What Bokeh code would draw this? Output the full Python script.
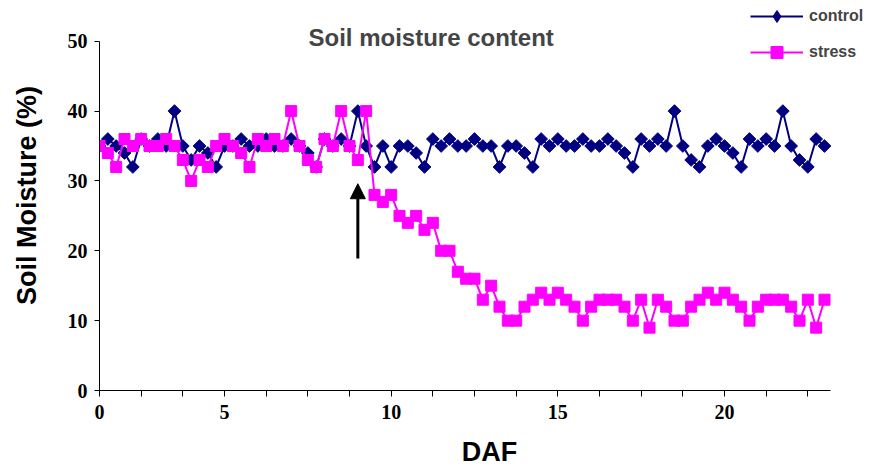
import numpy as np
from bokeh.plotting import figure
from bokeh.models import Range1d, FixedTicker, Label, Legend, LegendItem, Arrow, NormalHead, ColumnDataSource
from bokeh.embed import file_html
from bokeh.resources import INLINE

# ---- data ----
control = [35, 36, 35, 34, 32, 36, 35, 36, 35, 40,
           35, 33, 35, 34, 32, 35, 35, 36, 35, 35,
           36, 35, 35, 36, 35, 34, 32, 36, 35, 36,
           35, 40, 35, 32, 35, 32, 35, 35, 34, 32,
           36, 35, 36, 35, 35, 36, 35, 35, 32, 35,
           35, 34, 32, 36, 35, 36, 35, 35, 36, 35,
           35, 36, 35, 34, 32, 36, 35, 36, 35, 40,
           35, 33, 32, 35, 36, 35, 34, 32, 36, 35,
           36, 35, 40, 35, 33, 32, 36, 35]
stress = [35, 34, 32, 36, 35, 36, 35, 35, 36, 35,
          33, 30, 33, 32, 35, 36, 35, 34, 32, 36,
          35, 36, 35, 40, 35, 33, 32, 36, 35, 40,
          35, 33, 40, 28, 27, 28, 25, 24, 25, 23,
          24, 20, 20, 17, 16, 16, 13, 15, 12, 10,
          10, 12, 13, 14, 13, 14, 13, 12, 10, 12,
          13, 13, 13, 12, 10, 13, 9, 13, 12, 10,
          10, 12, 13, 14, 13, 14, 13, 12, 10, 12,
          13, 13, 13, 12, 10, 13, 9, 13]
sample = list(range(len(control)))          # sampling index along DAF axis
x_ticks = list(range(0, 90, 5))              # a tick every 5 samples
x_tick_labels = {0: "0", 15: "5", 35: "10", 55: "15", 75: "20"}
y_ticks = [0, 10, 20, 30, 40, 50]
stress_start = 31                            # sample where stress begins (arrow)
arrow_from, arrow_to = 18.9, 29.6

src = ColumnDataSource(dict(x=sample, control=control, stress=stress))
key_src = ColumnDataSource(dict(x=[float("nan")], y=[float("nan")]))

p = figure(width=879, height=470, output_backend="svg", toolbar_location=None,
           x_range=Range1d(0, 93.6), y_range=Range1d(0, 55.83),
           min_border_left=99, min_border_right=0, min_border_top=0, min_border_bottom=80)
p.outline_line_color = None
p.xgrid.visible = False
p.ygrid.visible = False

c_line = p.line("x", "control", source=src, line_color="#000080", line_width=2)
c_mark = p.scatter("x", "control", source=src, marker="square", angle=np.pi / 4, size=9,
                   fill_color="#000080", line_color="#000080")
s_line = p.line("x", "stress", source=src, line_color="#FF00FF", line_width=2)
s_mark = p.scatter("x", "stress", source=src, marker="square", size=11,
                   fill_color="#FF00FF", line_color="#FF00FF")
# legend swatch for the diamond marker (legend glyphs ignore marker rotation)
c_key = p.scatter("x", "y", source=key_src, marker="diamond", size=13,
                  fill_color="#000080", line_color="#000080")

# axes
xa = p.xaxis[0]
xa.bounds = (0, 87.7)
xa.ticker = FixedTicker(ticks=x_ticks)
xa.major_label_overrides = {t: x_tick_labels.get(t, "") for t in x_ticks}
xa.minor_tick_line_color = None
xa.major_tick_in = 0
xa.major_tick_out = 6
xa.major_label_standoff = 8
xa.major_label_text_font = "Liberation Serif"
xa.major_label_text_font_style = "bold"
xa.major_label_text_font_size = "20px"
xa.major_label_text_color = "black"
xa.axis_label = "DAF"
xa.axis_label_text_font = "Liberation Sans"
xa.axis_label_text_font_style = "bold"
xa.axis_label_text_font_size = "27px"
xa.axis_label_standoff = 15
xa.axis_label_text_color = "black"
xa.axis_line_color = "black"

ya = p.yaxis[0]
ya.bounds = (0, 50)
ya.ticker = FixedTicker(ticks=y_ticks)
ya.minor_tick_line_color = None
ya.major_tick_in = 0
ya.major_tick_out = 5
ya.major_label_standoff = 7
ya.major_label_text_font = "Liberation Serif"
ya.major_label_text_font_style = "bold"
ya.major_label_text_font_size = "20px"
ya.major_label_text_color = "black"
ya.axis_label = "Soil Moisture (%)"
ya.axis_label_text_font = "Liberation Sans"
ya.axis_label_text_font_style = "bold"
ya.axis_label_text_font_size = "27px"
ya.axis_label_standoff = 23
ya.axis_label_text_color = "black"
ya.axis_line_color = "black"

# title
p.add_layout(Label(x=39.8, y=50.6, text="Soil moisture content", text_align="center",
                   text_baseline="middle", text_font="Liberation Sans", text_font_style="bold",
                   text_font_size="24px"))

# arrow marking stress onset
p.add_layout(Arrow(end=NormalHead(size=15, fill_color="black", line_color="black"),
                   x_start=stress_start, y_start=arrow_from, x_end=stress_start, y_end=arrow_to,
                   line_color="black", line_width=3))

legend = Legend(items=[LegendItem(label="control", renderers=[c_line, c_key]),
                       LegendItem(label="stress", renderers=[s_line, s_mark])],
                location=(651, 323), padding=0, margin=0, spacing=6,
                glyph_width=53, glyph_height=30, label_height=30, label_standoff=6,
                border_line_alpha=0, background_fill_alpha=0,
                label_text_font="Liberation Sans", label_text_font_style="bold",
                label_text_font_size="16px")
p.add_layout(legend)

open("out.html", "w").write(file_html(p, INLINE))
